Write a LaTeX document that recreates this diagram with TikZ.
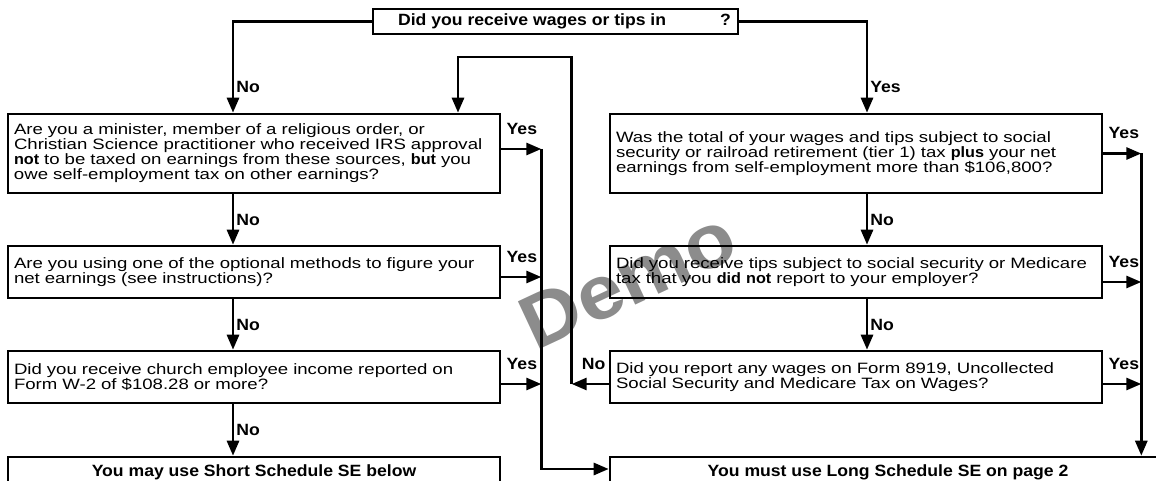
\documentclass[tikz,border=0pt]{standalone}
\usepackage{fontspec}
\usepackage{tikz}
\usetikzlibrary{arrows.meta}
\usetikzlibrary{calc}
\newfontfamily\qfont[FakeStretch=1.24]{Liberation Sans}
\newfontfamily\hfont[FakeStretch=1.08]{Liberation Sans}
\newcommand{\bword}[1]{{\hfont\bfseries #1}}

\begin{document}
\begin{tikzpicture}[x=1pt, y=-1pt]
        % ================= 样式定义 =================
        \tikzset{
            % 问题框:黑粗边,左对齐正文
            qbox/.style={draw=black, line width=2.6pt, inner xsep=6pt, inner ysep=2pt,
                text width=480pt, align=left, font=\qfont\fontsize{15}{15}\selectfont},
            % 结论框与顶部问题:粗体居中
            hbox/.style={draw=black, line width=2.6pt, inner sep=0pt,
                font=\hfont\bfseries\fontsize{16.3}{16.3}\selectfont},
            % 连线:粗黑线,实心三角箭头
            flow/.style={line width=2.8pt, black, -{Triangle[length=15pt, width=12pt]}},
            % Yes / No 标注
            lab/.style={font=\hfont\bfseries\fontsize{16.3}{16.3}\selectfont, inner sep=1pt},
            yeslab/.style={lab, anchor=south west, xshift=3pt, yshift=12pt},
            nolab/.style={lab, anchor=south east, xshift=-1pt, yshift=12pt},
            % 水印
            wmark/.style={font=\hfont\bfseries\fontsize{76}{76}\selectfont, text=black!45, rotate=25}
        }

        \useasboundingbox (0,0) rectangle (1156,481);
        \clip (0,0) rectangle (1156,481);

        % 水印 (在最底层)
        \node[wmark] (demo) at (628,280) {Demo};

        % ================= 节点 =================
        \node[hbox, minimum width=365pt, minimum height=25pt] (top) at (555.5,21.5)
            {\hspace*{18pt}Did you receive wages or tips in\hspace{54pt}?};

        % 左列
        \node[qbox, minimum height=79pt] (L1) at (254,153.5)
            {Are you a minister, member of a religious order, or\\
             Christian Science practitioner who received IRS approval\\
             \bword{not} to be taxed on earnings from these sources, \bword{but} you\\
             owe self-employment tax on other earnings?};
        \node[qbox, minimum height=52pt] (L2) at (254,272)
            {Are you using one of the optional methods to figure your\\
             net earnings (see instructions)?};
        \node[qbox, minimum height=52pt] (L3) at (254,377)
            {Did you receive church employee income reported on\\
             Form W-2 of \$108.28 or more?};
        \node[hbox, minimum width=492pt, minimum height=30pt] (L4) at (254,472)
            {\raisebox{3pt}{You may use Short Schedule SE below}};

        % 右列
        \node[qbox, minimum height=79pt] (R1) at (856,153.5)
            {Was the total of your wages and tips subject to social\\
             security or railroad retirement (tier 1) tax \bword{plus} your net\\
             earnings from self-employment more than \$106,800?};
        \node[qbox, minimum height=52pt] (R2) at (856,272)
            {Did you receive tips subject to social security or Medicare\\
             tax that you \bword{did not} report to your employer?};
        \node[qbox, minimum height=52pt] (R3) at (856,377)
            {Did you report any wages on Form 8919, Uncollected\\
             Social Security and Medicare Tax on Wages?};
        \node[hbox, minimum width=556pt, minimum height=30pt] (R4) at (888,472)
            {\raisebox{3pt}{You must use Long Schedule SE on page 2}};

        % 竖线所在的列
        \coordinate (lx) at (233,0);
        \coordinate (rx) at (867,0);
        \coordinate (looptop) at (458,57);

        % ================= 连线 =================
        \draw[flow] (top.west) -| (lx |- L1.north) node[lab, pos=0.86, right=1pt] (n0) {No};
        \draw[flow] (top.east) -| (rx |- R1.north) node[lab, pos=0.86, right=1pt] (y0) {Yes};

        \draw[flow] (lx |- L1.south) -- (lx |- L2.north) node[lab, midway, right=1pt] (n1) {No};
        \draw[flow] (lx |- L2.south) -- (lx |- L3.north) node[lab, midway, right=1pt] (n2) {No};
        \draw[flow] (lx |- L3.south) -- (lx |- L4.north) node[lab, midway, right=1pt] (n3) {No};
        \draw[flow] (rx |- R1.south) -- (rx |- R2.north) node[lab, midway, right=1pt] (n4) {No};
        \draw[flow] (rx |- R2.south) -- (rx |- R3.north) node[lab, midway, right=1pt] (n5) {No};

        % 左列 Yes -> 长表
        \draw[flow] ([yshift=4.5pt]L1.east) -- ++(40,0) coordinate (lyes) node[yeslab, at start] (y1) {Yes};
        \draw[flow] ([yshift=-5pt]L2.east) -- ++(40,0) node[yeslab, at start] (y2) {Yes};
        \draw[flow] ([yshift=-7pt]L3.east) -- ++(40,0) node[yeslab, at start] (y3) {Yes};
        \draw[flow] (lyes) |- ([yshift=3pt]R4.west);

        % 右列 Yes -> 长表
        \draw[flow] (R1.east) -- ++(38,0) coordinate (ryes) node[yeslab, at start] (y4) {Yes};
        \draw[flow] ([yshift=-10pt]R2.east) -- ++(38,0) node[yeslab, at start] (y5) {Yes};
        \draw[flow] ([yshift=-7pt]R3.east) -- ++(38,0) node[yeslab, at start] (y6) {Yes};
        \draw[flow] (ryes) -- (ryes |- R4.north);

        % 右列 No -> 回到左列第一问
        \draw[flow] ([yshift=-7pt]R3.west) -- ++(-37,0) coordinate (back) node[nolab, at start] (n6) {No};
        \draw[flow] (back) |- (looptop) -- (looptop |- L1.north);

    \end{tikzpicture}
\end{document}
